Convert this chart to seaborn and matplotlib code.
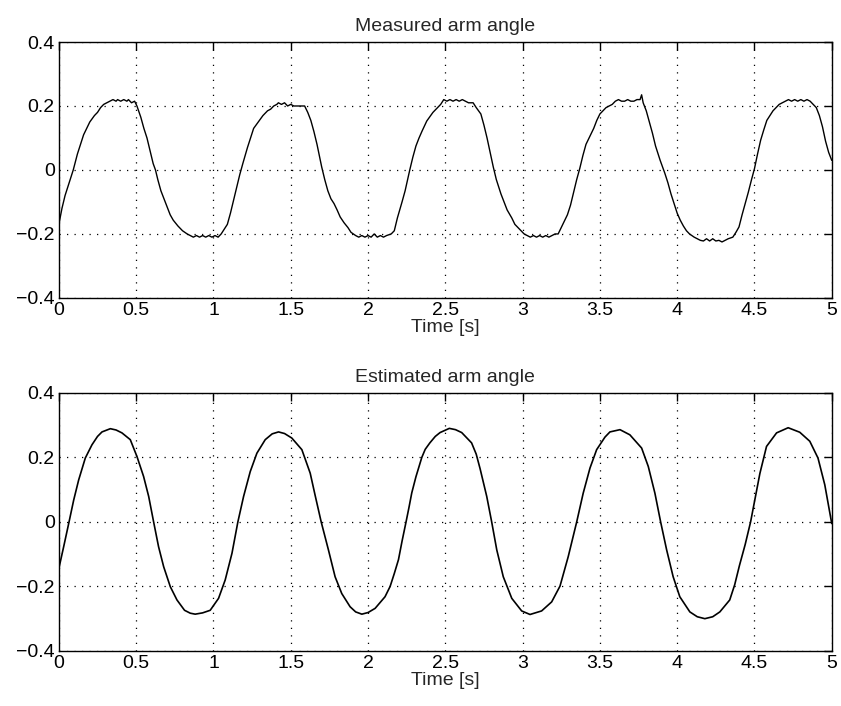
import matplotlib
matplotlib.use("Agg")
import matplotlib.pyplot as plt
import seaborn as sns
import pandas as pd

# ---- data ----
meas_t = [0.00, 0.02, 0.04, 0.06, 0.093, 0.12, 0.14, 0.16, 0.18, 0.20, 0.23, 0.25, 0.27, 0.29, 0.31,
          0.33, 0.35, 0.37, 0.38, 0.40, 0.42, 0.44, 0.45, 0.47, 0.49, 0.505, 0.53, 0.55, 0.57, 0.59,
          0.61, 0.625, 0.64, 0.66, 0.68, 0.70, 0.72, 0.74, 0.77, 0.80, 0.83, 0.85, 0.87, 0.89, 0.91,
          0.93, 0.95, 0.97, 0.99, 1.01, 1.03, 1.05, 1.07, 1.09, 1.11, 1.13, 1.15, 1.17, 1.19, 1.22,
          1.24, 1.26, 1.29, 1.32, 1.35, 1.37, 1.39, 1.41, 1.42, 1.44, 1.46, 1.48, 1.50, 1.52, 1.55,
          1.59, 1.61, 1.63, 1.65, 1.67, 1.70, 1.72, 1.74, 1.76, 1.78, 1.80, 1.82, 1.845, 1.87, 1.89,
          1.92, 1.94, 1.96, 1.98, 2.00, 2.02, 2.04, 2.06, 2.08, 2.10, 2.12, 2.15, 2.17, 2.19, 2.22,
          2.24, 2.27, 2.29, 2.31, 2.33, 2.35, 2.38, 2.42, 2.45, 2.47, 2.49, 2.51, 2.53, 2.55, 2.57,
          2.59, 2.61, 2.63, 2.65, 2.68, 2.70, 2.73, 2.75, 2.77, 2.79, 2.81, 2.83, 2.86, 2.88, 2.90,
          2.93, 2.95, 2.97, 2.99, 3.01, 3.03, 3.05, 3.07, 3.09, 3.11, 3.13, 3.15, 3.17, 3.19, 3.21,
          3.23, 3.25, 3.26, 3.29, 3.31, 3.33, 3.35, 3.37, 3.39, 3.41, 3.44, 3.46, 3.48, 3.50, 3.52,
          3.54, 3.56, 3.58, 3.60, 3.62, 3.64, 3.66, 3.68, 3.70, 3.72, 3.74, 3.76, 3.77, 3.78, 3.80,
          3.82, 3.84, 3.86, 3.89, 3.92, 3.94, 3.96, 3.98, 4.00, 4.02, 4.04, 4.06, 4.08, 4.11, 4.13,
          4.15, 4.17, 4.19, 4.21, 4.23, 4.25, 4.27, 4.29, 4.31, 4.33, 4.36, 4.38, 4.40, 4.42, 4.44,
          4.46, 4.48, 4.50, 4.52, 4.54, 4.56, 4.58, 4.60, 4.62, 4.64, 4.66, 4.68, 4.70, 4.72, 4.74,
          4.76, 4.78, 4.80, 4.82, 4.84, 4.86, 4.88, 4.90, 4.92, 4.94, 4.96, 4.98, 5.00]
meas_y = [-0.17, -0.12, -0.08, -0.05, 0.00, 0.05, 0.08, 0.11, 0.13, 0.15, 0.17, 0.18, 0.195, 0.205, 0.21,
          0.215, 0.22, 0.215, 0.22, 0.215, 0.22, 0.215, 0.22, 0.21, 0.215, 0.20, 0.165, 0.13, 0.10, 0.06,
          0.02, 0.00, -0.03, -0.065, -0.09, -0.115, -0.14, -0.157, -0.175, -0.19, -0.20, -0.205, -0.21, -0.205, -0.21,
          -0.205, -0.21, -0.205, -0.21, -0.205, -0.21, -0.20, -0.185, -0.17, -0.135, -0.095, -0.055, -0.015, 0.02, 0.07,
          0.10, 0.13, 0.15, 0.17, 0.185, 0.19, 0.20, 0.205, 0.21, 0.205, 0.21, 0.20, 0.205, 0.20, 0.20,
          0.20, 0.18, 0.155, 0.12, 0.08, 0.01, -0.03, -0.065, -0.09, -0.105, -0.125, -0.147, -0.165, -0.18, -0.195,
          -0.205, -0.21, -0.205, -0.21, -0.205, -0.21, -0.20, -0.21, -0.205, -0.21, -0.205, -0.20, -0.19, -0.15, -0.10,
          -0.065, 0.00, 0.04, 0.075, 0.10, 0.122, 0.153, 0.18, 0.195, 0.205, 0.22, 0.215, 0.22, 0.215, 0.22,
          0.215, 0.22, 0.215, 0.21, 0.21, 0.195, 0.175, 0.14, 0.10, 0.055, 0.01, -0.03, -0.075, -0.10, -0.125,
          -0.15, -0.17, -0.18, -0.19, -0.20, -0.205, -0.21, -0.205, -0.21, -0.205, -0.21, -0.205, -0.21, -0.205, -0.20,
          -0.20, -0.18, -0.17, -0.14, -0.11, -0.07, -0.03, 0.005, 0.045, 0.08, 0.11, 0.13, 0.155, 0.175, 0.185,
          0.195, 0.20, 0.205, 0.215, 0.22, 0.215, 0.215, 0.22, 0.215, 0.215, 0.22, 0.22, 0.235, 0.21, 0.185,
          0.15, 0.115, 0.075, 0.03, -0.01, -0.04, -0.075, -0.105, -0.135, -0.157, -0.175, -0.19, -0.20, -0.21, -0.215,
          -0.22, -0.222, -0.215, -0.222, -0.215, -0.222, -0.22, -0.225, -0.22, -0.215, -0.21, -0.195, -0.178, -0.14, -0.105,
          -0.07, -0.032, 0.004, 0.05, 0.093, 0.125, 0.155, 0.17, 0.185, 0.195, 0.205, 0.21, 0.215, 0.22, 0.215,
          0.22, 0.215, 0.22, 0.215, 0.22, 0.215, 0.205, 0.195, 0.17, 0.135, 0.09, 0.055, 0.03]

est_t = [0.000, 0.031, 0.064, 0.096, 0.128, 0.171, 0.214, 0.25, 0.279, 0.333, 0.37, 0.408, 0.462, 0.505, 0.548,
         0.581, 0.613, 0.645, 0.678, 0.721, 0.764, 0.813, 0.85, 0.882, 0.93, 0.979, 1.033, 1.076, 1.12, 1.158,
         1.195, 1.238, 1.281, 1.335, 1.38, 1.421, 1.46, 1.507, 1.572, 1.626, 1.658, 1.697, 1.744, 1.787, 1.83,
         1.884, 1.92, 1.96, 2.00, 2.046, 2.11, 2.143, 2.17, 2.197, 2.22, 2.246, 2.265, 2.283, 2.31, 2.348,
         2.37, 2.40, 2.435, 2.466, 2.526, 2.566, 2.606, 2.67, 2.70, 2.725, 2.768, 2.80, 2.833, 2.875, 2.93,
         2.994, 3.048, 3.123, 3.188, 3.242, 3.295, 3.35, 3.392, 3.436, 3.479, 3.533, 3.565, 3.63, 3.694, 3.77,
         3.813, 3.856, 3.893, 3.932, 3.974, 4.017, 4.082, 4.13, 4.179, 4.23, 4.276, 4.34, 4.372, 4.403, 4.44,
         4.475, 4.505, 4.535, 4.578, 4.643, 4.718, 4.793, 4.858, 4.911, 4.955, 5.00]
est_y = [-0.144, -0.077, -0.004, 0.068, 0.13, 0.198, 0.239, 0.265, 0.279, 0.289, 0.285, 0.276, 0.255, 0.203, 0.141,
         0.079, 0.0, -0.077, -0.139, -0.201, -0.242, -0.274, -0.283, -0.286, -0.282, -0.274, -0.237, -0.18, -0.097, 0.0,
         0.079, 0.156, 0.213, 0.255, 0.273, 0.279, 0.274, 0.26, 0.224, 0.151, 0.082, 0.0, -0.087, -0.17, -0.222,
         -0.263, -0.279, -0.286, -0.281, -0.268, -0.232, -0.2, -0.16, -0.117, -0.06, 0.0, 0.045, 0.09, 0.14, 0.2,
         0.225, 0.245, 0.265, 0.277, 0.29, 0.286, 0.277, 0.245, 0.21, 0.165, 0.079, 0.0, -0.087, -0.17, -0.237,
         -0.276, -0.287, -0.276, -0.248, -0.199, -0.108, 0.0, 0.089, 0.167, 0.224, 0.263, 0.279, 0.286, 0.27, 0.229,
         0.172, 0.089, 0.0, -0.087, -0.17, -0.232, -0.279, -0.294, -0.30, -0.294, -0.279, -0.242, -0.195, -0.135, -0.07,
         0.0, 0.075, 0.15, 0.234, 0.276, 0.292, 0.278, 0.25, 0.198, 0.115, -0.005]

titles = ["Measured arm angle", "Estimated arm angle"]
xlabel = "Time [s]"
xticks = [0, 0.5, 1, 1.5, 2, 2.5, 3, 3.5, 4, 4.5, 5]
xticklabels = ["0", "0.5", "1", "1.5", "2", "2.5", "3", "3.5", "4", "4.5", "5"]
yticks = [-0.4, -0.2, 0, 0.2, 0.4]
yticklabels = ["\u22120.4", "\u22120.2", "0", "0.2", "0.4"]

sns.set_style("white")
plt.rcParams["font.family"] = ["Liberation Sans", "DejaVu Sans"]

fig = plt.figure(figsize=(8.41, 7.06), dpi=100)
ax1 = fig.add_axes([0.070, 0.578, 0.919, 0.3625])
ax2 = fig.add_axes([0.070, 0.078, 0.919, 0.3655])

df_meas = pd.DataFrame({"t": meas_t, "y": meas_y})
df_est = pd.DataFrame({"t": est_t, "y": est_y})

sns.lineplot(data=df_meas, x="t", y="y", ax=ax1, color="black", linewidth=1.0,
             estimator=None, sort=False)
sns.lineplot(data=df_est, x="t", y="y", ax=ax2, color="black", linewidth=1.2,
             estimator=None, sort=False)

for ax, title in zip([ax1, ax2], titles):
    ax.set_xlim(0, 5)
    ax.set_ylim(-0.4, 0.4)
    ax.set_xticks(xticks)
    ax.set_xticklabels(xticklabels)
    ax.set_yticks(yticks)
    ax.set_yticklabels(yticklabels)
    ax.grid(True, color="black", linestyle=(0, (1, 5)), linewidth=0.9)
    ax.tick_params(direction="in", length=6, width=1, top=True, right=True,
                   labelsize=14, colors="black", pad=3)
    for s in ax.spines.values():
        s.set_color("black")
        s.set_linewidth(1.0)
        s.set_visible(True)
    ax.set_title(title, fontsize=14, pad=8)
    ax.set_xlabel(xlabel, fontsize=14, labelpad=0)
    ax.set_ylabel("")

fig.savefig("out.png", dpi=100, facecolor="white")
